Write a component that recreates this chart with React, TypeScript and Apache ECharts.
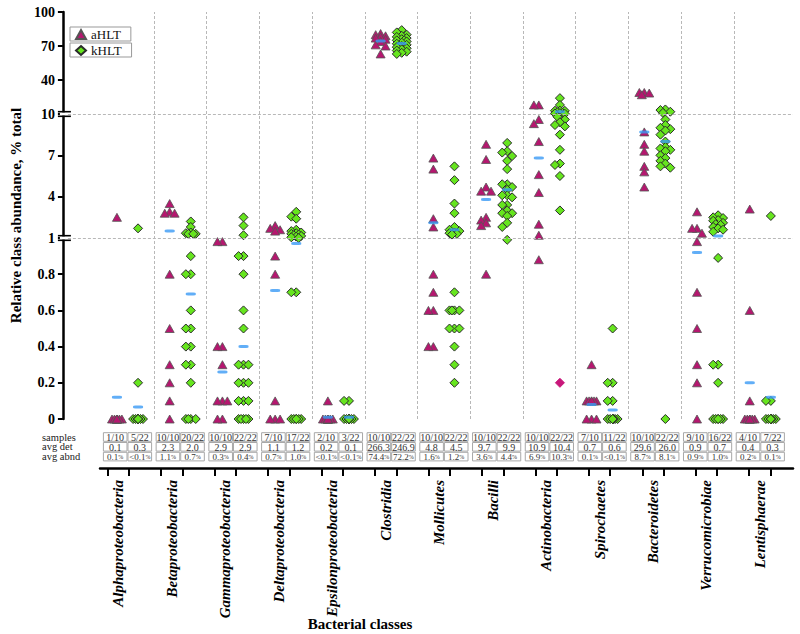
import React, { useEffect, useRef } from 'react';
import * as echarts from 'echarts';

const classes = ['Alphaproteobacteria', 'Betaproteobacteria', 'Gammaproteobacteria', 'Deltaproteobacteria', 'Epsilonproteobacteria', 'Clostridia', 'Mollicutes', 'Bacilli', 'Actinobacteria', 'Spirochaetes', 'Bacteroidetes', 'Verrucomicrobiae', 'Lentisphaerae'];

// relative abundance (% total) per sample
const aHLT: number[][] = [
  [2.5, 0, 0, 0, 0, 0, 0, 0, 0, 0],
  [3.5, 2.9, 2.8, 2.8, 0.8, 0.5, 0.3, 0.2, 0.1, 0],
  [0.98, 0.98, 0.4, 0.4, 0.3, 0.1, 0.1, 0.1, 0, 0],
  [1.9, 1.7, 1.6, 1.5, 0.9, 0.8, 0.1, 0, 0, 0],
  [0.1, 0, 0, 0, 0, 0, 0, 0, 0, 0],
  [81, 80, 79, 78, 77, 76, 74, 71, 70, 63],
  [6.8, 6.0, 2.4, 1.8, 0.8, 0.7, 0.6, 0.6, 0.4, 0.4],
  [7.8, 6.7, 4.7, 4.4, 4.4, 2.5, 2.3, 2.1, 1.9, 0.8],
  [18, 18, 9.6, 9.3, 8.0, 5.6, 4.3, 2.0, 1.2, 0.88],
  [0.3, 0.1, 0.1, 0.1, 0.1, 0.1, 0.1, 0, 0, 0],
  [29, 29, 28.5, 27, 8.7, 7.8, 7.3, 6.2, 5.8, 4.7],
  [2.9, 1.7, 1.7, 1.35, 0.98, 0.7, 0.5, 0.3, 0.2, 0],
  [3.1, 0.6, 0.1, 0, 0, 0, 0, 0, 0, 0],
];

const kHLT: number[][] = [
  [1.7, 0.2, 0, 0, 0, 0, 0, 0, 0, 0, 0, 0, 0, 0, 0, 0, 0, 0, 0, 0, 0, 0],
  [2.2, 1.8, 1.4, 1.35, 1.3, 1.3, 1.3, 0.9, 0.8, 0.8, 0.6, 0.5, 0.5, 0.4, 0.4, 0.3, 0.3, 0.2, 0, 0, 0, 0],
  [2.5, 1.9, 1.2, 0.9, 0.9, 0.8, 0.6, 0.5, 0.3, 0.3, 0.3, 0.2, 0.2, 0.2, 0.1, 0.1, 0.1, 0, 0, 0, 0, 0],
  [2.9, 2.55, 2.4, 1.6, 1.5, 1.4, 1.35, 1.3, 1.25, 1.2, 1.15, 1.1, 1.05, 1.0, 0.7, 0.7, 0, 0, 0, 0, 0, 0],
  [0.1, 0.1, 0, 0, 0, 0, 0, 0, 0, 0, 0, 0, 0, 0, 0, 0, 0, 0, 0, 0, 0, 0],
  [84, 82, 80, 79, 78, 77, 76, 75, 75, 74, 73, 72, 71, 70, 70, 69, 68, 67, 66, 65, 64, 63],
  [6.2, 5.2, 3.5, 2.8, 1.8, 1.6, 1.5, 1.4, 1.35, 1.3, 1.25, 0.7, 0.6, 0.6, 0.6, 0.6, 0.5, 0.5, 0.5, 0.4, 0.3, 0.2],
  [7.9, 7.3, 7.2, 6.95, 6.6, 6.0, 4.9, 4.9, 4.7, 4.5, 4.1, 4.1, 3.95, 3.4, 3.4, 3.0, 2.8, 2.8, 2.6, 2.1, 1.8, 0.99],
  [24, 18, 13, 12.9, 12.8, 11.5, 11, 10.8, 10.5, 10.2, 9.8, 9.6, 9.4, 9.2, 9.1, 8.5, 7.4, 6.4, 6.3, 5.5, 3.0, 0.2],
  [0.5, 0.2, 0.2, 0.1, 0.1, 0, 0, 0, 0, 0, 0, 0, 0, 0, 0, 0, 0, 0, 0, 0, 0, 0],
  [14, 13.5, 12, 11, 9.6, 9.2, 9.0, 8.9, 8.8, 8.5, 8.0, 7.6, 7.5, 7.4, 7.3, 7.0, 6.8, 6.6, 6.4, 6.2, 6.1, 0],
  [2.65, 2.5, 2.45, 2.3, 2.25, 2.1, 2.0, 1.95, 1.8, 1.7, 1.6, 1.45, 0.89, 0.3, 0.3, 0.2, 0, 0, 0, 0, 0, 0],
  [2.6, 0.1, 0.1, 0, 0, 0, 0, 0, 0, 0, 0, 0, 0, 0, 0, 0, 0, 0, 0, 0, 0, 0],
];

// the kHLT point drawn in magenta (Actinobacteria, 0.2)
const kOutlier = { cls: 8, value: 0.2 };

// blue group markers
const aMean = [0.12, 1.5, 0.26, 0.71, 0.01, 74.4, 2.1, 3.8, 6.8, 0.08, 8.7, 0.92, 0.2];
const kMean = [0.066, 0.69, 0.4, 0.97, 0.01, 72.2, 1.6, 4.5, 12, 0.05, 8.0, 1.15, 0.12];

// table under the plot
const samplesA = ['1/10', '10/10', '10/10', '7/10', '2/10', '10/10', '10/10', '10/10', '10/10', '7/10', '10/10', '9/10', '4/10'];
const samplesK = ['5/22', '20/22', '22/22', '17/22', '3/22', '22/22', '22/22', '22/22', '22/22', '11/22', '22/22', '16/22', '7/22'];
const avgDetA = ['0.1', '2.3', '2.9', '1.1', '0.2', '266.3', '4.8', '9.7', '10.9', '0.7', '29.6', '0.9', '0.4'];
const avgDetK = ['0.3', '2.0', '2.9', '1.2', '0.1', '246.9', '4.5', '9.9', '10.4', '0.6', '26.0', '0.7', '0.3'];
const avgAbndA = ['0.1', '1.1', '0.3', '0.7', '<0.1', '74.4', '1.6', '3.6', '6.9', '0.1', '8.7', '0.9', '0.2'];
const avgAbndK = ['<0.1', '0.7', '0.4', '1.0', '<0.1', '72.2', '1.2', '4.4', '10.3', '<0.1', '8.1', '1.0', '0.1'];
const rowLabels = ['samples', 'avg det', 'avg abnd'];

const yTickValues = [0, 0.2, 0.4, 0.6, 0.8, 1, 4, 7, 10, 40, 70, 100];
const yTickLabels = ['0', '0.2', '0.4', '0.6', '0.8', '1', '4', '7', '10', '40', '70', '100'];
const axisBreaks = [1, 10];

// broken (piecewise linear) value axis: segment heights in px
const SEG = [
  { from: 0, to: 1, h: 181 },
  { from: 1, to: 10, h: 124 },
  { from: 10, to: 100, h: 102 },
];
function toV(x: number): number {
  let base = 0;
  for (const s of SEG) {
    if (x <= s.to) return base + ((x - s.from) / (s.to - s.from)) * s.h;
    base += s.h;
  }
  return base;
}
const V_MAX = SEG.reduce((a, s) => a + s.h, 0);

const GRID_LEFT = 53;
const GRID_RIGHT = 7;
const X_MIN = -1.225;
const X_MAX = 12.62;
const PX_PER_X = (800 - GRID_LEFT - GRID_RIGHT) / (X_MAX - X_MIN);
const SIDE = 0.2;
const FONT = '"Liberation Serif", "Times New Roman", serif';

function swarm(vals: number[]): number[] {
  const order = vals.map((_, i) => i).sort((a, b) => vals[b] - vals[a]);
  const placed: { dx: number; y: number }[] = [];
  const out: number[] = vals.map(() => 0);
  const cands = [0, -5, 5, -2.5, 2.5];
  for (const idx of order) {
    const y = toV(vals[idx]);
    let best = 0;
    let bestD = -1;
    for (const c of cands) {
      let md = Infinity;
      for (const p of placed) {
        const d = Math.hypot(p.dx - c, p.y - y);
        if (d < md) md = d;
      }
      if (md >= 5) { best = c; break; }
      if (md > bestD) { bestD = md; best = c; }
    }
    placed.push({ dx: best, y });
    out[idx] = best;
  }
  return out;
}

function buildPoints(groups: number[][], side: number, outlier?: { cls: number; value: number }) {
  const data: any[] = [];
  groups.forEach((vals, i) => {
    const offs = swarm(vals);
    let outlierUsed = false;
    vals.forEach((v, j) => {
      const item: any = { value: [i + side + offs[j] / PX_PER_X, toV(v)] };
      if (outlier && !outlierUsed && outlier.cls === i && outlier.value === v) {
        outlierUsed = true;
        item.itemStyle = { color: '#c8177a', borderColor: '#c8177a' };
      }
      data.push(item);
    });
  });
  return data;
}

export default function App() {
  const ref = useRef<HTMLDivElement>(null);
  useEffect(() => {
    if (!ref.current) return;
    const chart = echarts.init(ref.current, null, { renderer: 'svg' });

    const tableData: number[][] = [];
    classes.forEach((_, i) => {
      for (let s = 0; s < 2; s++) for (let r = 0; r < 3; r++) tableData.push([i, s, r]);
    });

    const option: any = {
      animation: false,
      backgroundColor: '#fff',
      grid: [
        { left: GRID_LEFT, right: GRID_RIGHT, top: 12, height: V_MAX },
        { left: 100, right: GRID_RIGHT, top: 467, height: 1 },
      ],
      legend: [
        {
          data: ['aHLT'], left: 70, top: 27, orient: 'vertical',
          borderColor: '#999', borderWidth: 1, padding: [1, 10, 0, 5],
          itemWidth: 10, itemHeight: 9, selectedMode: false,
          textStyle: { fontFamily: FONT, fontSize: 13, color: '#111', lineHeight: 12 },
        },
        {
          data: ['kHLT'], left: 70, top: 43, orient: 'vertical',
          borderColor: '#999', borderWidth: 1, padding: [1, 10, 0, 5],
          itemWidth: 10, itemHeight: 9, selectedMode: false,
          textStyle: { fontFamily: FONT, fontSize: 13, color: '#111', lineHeight: 12 },
        },
      ],
      xAxis: [
        { type: 'value', gridIndex: 0, min: X_MIN, max: X_MAX, show: false },
        {
          type: 'value', gridIndex: 1, min: X_MIN + (100 - GRID_LEFT) / PX_PER_X, max: X_MAX,
          position: 'bottom',
          axisLine: { show: true, onZero: false, lineStyle: { color: '#000', width: 2.5 } },
          axisTick: {
            show: true, length: 8, lineStyle: { color: '#000', width: 2 },
            customValues: classes.flatMap((_, i) => [i - SIDE, i + SIDE]),
          },
          axisLabel: {
            show: true, rotate: 90, margin: 12,
            customValues: classes.map((_, i) => i),
            formatter: (v: number) => classes[Math.round(v)] ?? '',
            fontFamily: FONT, fontWeight: 'bold', fontStyle: 'italic', fontSize: 15, color: '#000',
          },
          splitLine: { show: false },
        },
      ],
      yAxis: [
        {
          type: 'value', gridIndex: 0, min: 0, max: V_MAX, position: 'left',
          name: 'Relative class abundance, % total',
          nameLocation: 'middle', nameGap: 31,
          nameTextStyle: { fontFamily: FONT, fontWeight: 'bold', fontSize: 15, color: '#000' },
          axisLine: { show: true, onZero: false, lineStyle: { color: '#000', width: 2.5 } },
          axisTick: { show: true, length: 5, lineStyle: { color: '#000', width: 2 }, customValues: yTickValues.map(toV) },
          axisLabel: {
            show: true, margin: 8, customValues: yTickValues.map(toV),
            formatter: (val: number) => {
              const idx = yTickValues.findIndex((t) => Math.abs(toV(t) - val) < 0.5);
              return idx >= 0 ? yTickLabels[idx] : '';
            },
            fontFamily: FONT, fontWeight: 'bold', fontSize: 14, color: '#000',
          },
          splitLine: { show: false },
        },
        { type: 'value', gridIndex: 1, show: false, min: 0, max: 1 },
      ],
      series: [
        {
          name: 'aHLT', type: 'scatter', xAxisIndex: 0, yAxisIndex: 0,
          symbol: 'triangle', symbolSize: [9, 8], z: 3,
          itemStyle: { color: '#b5176f', borderColor: '#555', borderWidth: 0.8, opacity: 1 },
          data: buildPoints(aHLT, -SIDE),
          markLine: {
            silent: true, symbol: 'none', label: { show: false },
            lineStyle: { type: [3, 2], color: '#b8b8b8', width: 1 },
            data: [
              ...classes.slice(0, -1).map((_, i) => ({ xAxis: i + 0.5 })),
              ...axisBreaks.map((b) => ({ yAxis: toV(b) })),
            ],
          },
        },
        {
          name: 'kHLT', type: 'scatter', xAxisIndex: 0, yAxisIndex: 0,
          symbol: 'diamond', symbolSize: [9, 9], z: 3,
          itemStyle: { color: '#66e51e', borderColor: '#2b2b2b', borderWidth: 1, opacity: 1 },
          data: buildPoints(kHLT, SIDE, kOutlier),
        },
        {
          name: 'aHLT mean', type: 'scatter', xAxisIndex: 0, yAxisIndex: 0,
          symbol: 'roundRect', symbolSize: [10, 3], z: 5, silent: true,
          itemStyle: { color: '#3a9af5' },
          data: aMean.map((m, i) => [i - SIDE, toV(m)]),
        },
        {
          name: 'kHLT mean', type: 'scatter', xAxisIndex: 0, yAxisIndex: 0,
          symbol: 'roundRect', symbolSize: [10, 3], z: 5, silent: true,
          itemStyle: { color: '#3a9af5' },
          data: kMean.map((m, i) => [i + SIDE, toV(m)]),
        },
        {
          name: 'breaks', type: 'custom', xAxisIndex: 0, yAxisIndex: 0, silent: true, clip: false, z: 10,
          data: axisBreaks.map((b) => [X_MIN, toV(b)]),
          renderItem: (_p: any, api: any) => {
            const p = api.coord([api.value(0), api.value(1)]);
            return {
              type: 'group',
              children: [
                { type: 'rect', shape: { x: p[0] - 3, y: p[1] - 1.6, width: 6, height: 3.2 }, style: { fill: '#fff' } },
                { type: 'line', shape: { x1: p[0] - 5, y1: p[1] - 2.3, x2: p[0] + 8, y2: p[1] - 2.3 }, style: { stroke: '#000', lineWidth: 1.6 } },
                { type: 'line', shape: { x1: p[0] - 5, y1: p[1] + 2.3, x2: p[0] + 8, y2: p[1] + 2.3 }, style: { stroke: '#000', lineWidth: 1.6 } },
              ],
            };
          },
        },
        {
          name: 'table', type: 'custom', xAxisIndex: 0, yAxisIndex: 0, silent: true, clip: false, z: 4,
          data: tableData,
          renderItem: (_p: any, api: any) => {
            const i = api.value(0);
            const s = api.value(1);
            const r = api.value(2);
            const p = api.coord([i, 0]);
            const cx = p[0] + (s === 0 ? -12.3 : 12.3);
            const top = p[1] + 13.7 + r * 9.8;
            let text = '';
            let style: any = { font: `10px ${FONT}` };
            if (r === 0) text = s === 0 ? samplesA[i] : samplesK[i];
            else if (r === 1) text = s === 0 ? avgDetA[i] : avgDetK[i];
            else {
              const v = s === 0 ? avgAbndA[i] : avgAbndK[i];
              text = `{n|${v}}{p|%}`;
              style = {
                rich: {
                  n: { fontFamily: FONT, fontSize: 9, fill: '#333', color: '#333' },
                  p: { fontFamily: FONT, fontSize: 6, fill: '#333', color: '#333' },
                },
              };
            }
            return {
              type: 'group',
              children: [
                { type: 'rect', shape: { x: cx - 11.8, y: top, width: 23.6, height: 8.6 }, style: { fill: '#fff', stroke: '#a8a8a8', lineWidth: 1 } },
                {
                  type: 'text',
                  style: { text, x: cx, y: top + 4.6, align: 'center', verticalAlign: 'middle', fill: '#333', ...style },
                },
              ],
            };
          },
        },
      ],
      graphic: [
        ...rowLabels.map((t, r) => ({
          type: 'text', x: 42, y: 437 + r * 9.8, silent: true,
          style: { text: t, font: `10.5px ${FONT}`, fill: '#222', align: 'left', verticalAlign: 'middle' },
        })),
        {
          type: 'text', x: 360, y: 624, silent: true,
          style: { text: 'Bacterial classes', font: `bold 15px ${FONT}`, fill: '#000', align: 'center', verticalAlign: 'middle' },
        },
      ],
    };
    chart.setOption(option);
    return () => chart.dispose();
  }, []);
  return <div ref={ref} style={{ position: 'absolute', left: 0, top: 0, width: 800, height: 634 }} />;
}
